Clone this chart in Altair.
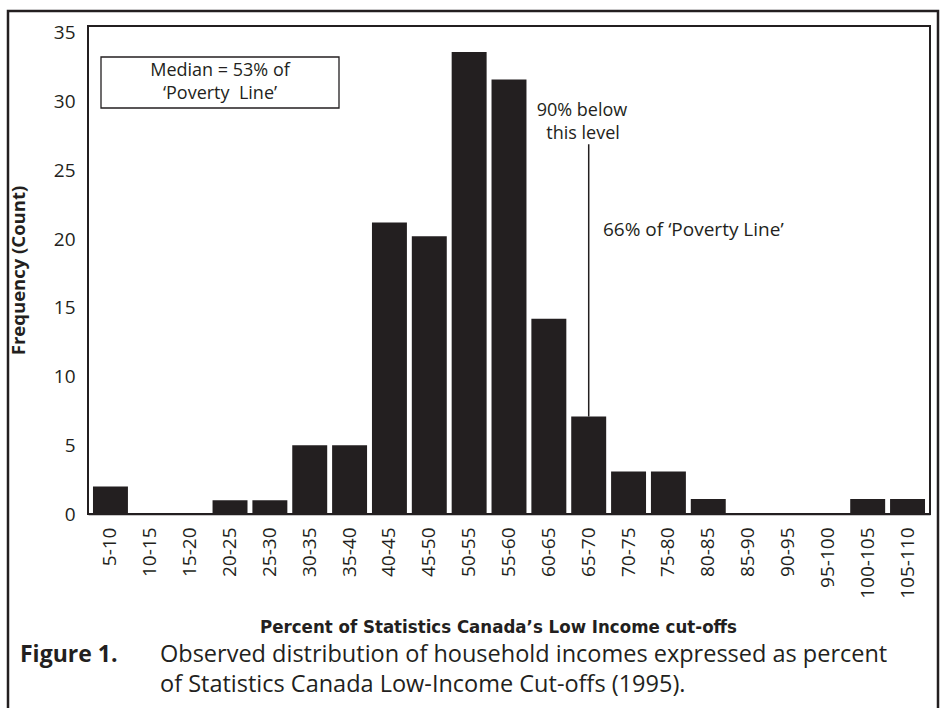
import altair as alt
import pandas as pd

bins = ["5-10", "10-15", "15-20", "20-25", "25-30", "30-35", "35-40", "40-45",
        "45-50", "50-55", "55-60", "60-65", "65-70", "70-75", "75-80", "80-85",
        "85-90", "90-95", "95-100", "100-105", "105-110"]
counts = [2, 0, 0, 1, 1, 5, 5, 21.2, 20.2, 33.6, 31.6, 14.2, 7.1, 3.1, 3.1, 1.1,
          0, 0, 0, 1.1, 1.1]
y_ticks = [0, 5, 10, 15, 20, 25, 30, 35]

marker_bin = "65-70"
marker_low = 7.1
marker_high = 26.9

INK = "#231f20"
FONT = "Open Sans"
NARROW = "DejaVu Sans Condensed"

df = pd.DataFrame({"bin": bins, "count": counts})

W, H = 842, 488

x_enc = alt.X("bin:N", sort=bins,
              scale=alt.Scale(paddingInner=0.123, paddingOuter=0.125),
              axis=alt.Axis(labelAngle=270, labelFontSize=19, labelFont=FONT,
                            labelColor=INK, labelPadding=13, ticks=False,
                            domainColor=INK, domainWidth=1.5,
                            title="Percent of Statistics Canada\u2019s Low Income cut-offs",
                            titleFont=NARROW, titleFontSize=18.5, titleFontWeight="bold",
                            titleColor=INK, titleX=410, titleY=112,
                            titleBaseline="middle", titleAlign="center"))
y_enc = alt.Y("count:Q",
              scale=alt.Scale(domain=[0, 35.5], nice=False),
              axis=alt.Axis(values=y_ticks, ticks=False, grid=False, domain=False,
                            labelFontSize=19, labelFont=FONT, labelColor=INK,
                            labelPadding=13,
                            title="Frequency (Count)", titleFont=FONT,
                            titleFontSize=18.5, titleFontWeight="bold", titleColor=INK,
                            titleX=-70, titleY=H / 2, titleBaseline="middle",
                            titleAlign="center"))

bars = alt.Chart(df).mark_bar(color=INK).encode(x=x_enc, y=y_enc)

marker = alt.Chart(pd.DataFrame({"bin": [marker_bin], "lo": [marker_low],
                                 "hi": [marker_high]})).mark_rule(
    color=INK, strokeWidth=1.5).encode(
    x=alt.X("bin:N", sort=bins), y="lo:Q", y2="hi:Q")

one = alt.Data(values=[{}])

frame = alt.Chart(one).mark_rect(fillOpacity=0, stroke=INK, strokeWidth=2.5).encode(
    x=alt.value(-80), x2=alt.value(850), y=alt.value(-15), y2=alt.value(720))

box = alt.Chart(one).mark_rect(fill="white", stroke=INK, strokeWidth=1.3).encode(
    x=alt.value(13), x2=alt.value(251), y=alt.value(31), y2=alt.value(82))


def label(text, x, y, size=18, align="center", weight="normal", font=FONT):
    return alt.Chart(one).mark_text(
        font=font, fontSize=size, fontWeight=weight, color=INK,
        align=align, baseline="middle").encode(
        x=alt.value(x), y=alt.value(y), text=alt.value(text))


texts = [
    label("Median = 53% of", 132, 44.5),
    label("\u2018Poverty\u00a0 Line\u2019", 132, 68),
    label("90% below", 494, 84.5),
    label("this level", 495, 108),
    label("66% of \u2018Poverty Line\u2019", 515, 204, size=19, align="left"),
    label("Figure 1.", -68, 629, size=23, align="left", weight="bold"),
    label("Observed distribution of household incomes expressed as percent",
          72, 629, size=23.5, align="left"),
    label("of Statistics Canada Low-Income Cut-offs (1995).",
          72, 659, size=23.5, align="left"),
]

chart = alt.layer(bars, marker, frame, box, *texts).properties(
    width=W, height=H,
    autosize=alt.AutoSizeParams(type="none"),
    padding={"left": 88, "top": 26, "right": 14, "bottom": 194},
    background="white",
).configure_view(stroke=INK, strokeWidth=2)

chart.save("out.html", embed_options={"renderer": "svg", "actions": False})
